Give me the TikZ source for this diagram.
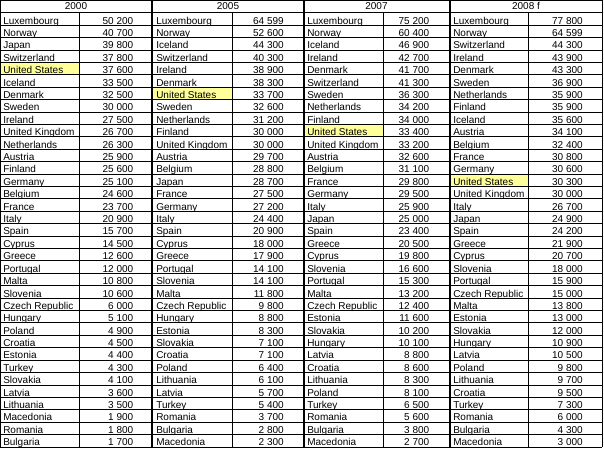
\documentclass[tikz,border=0pt]{standalone}
\usepackage{fontspec}
\setmainfont{Liberation Sans}
\definecolor{hlyellow}{RGB}{255,255,153}
\newcommand\mkcol[4]{%
  \foreach \nm/\vl [count=\r] in {#4} {%
    \node[namecell] (n#1-\r) at (#2,{13+\r*12.4-1.2}) {\nm};
    \node[valcell] (v#1-\r) at (#3,{13+\r*12.4-1.2}) {\vl};
  }%
}
\begin{document}
\begin{tikzpicture}[x=0.75pt,y=-0.75pt,
  txt/.style={inner sep=0pt, font=\fontsize{7.5}{9}\selectfont},
  namecell/.style={txt, anchor=base west},
  valcell/.style={txt, anchor=base east},
  headcell/.style={txt, anchor=base},
  thinline/.style={line width=0.75pt, black},
  sepline/.style={line width=1.5pt, black},
  hl/.style={fill=hlyellow}]
\useasboundingbox (0,0) rectangle (604,449);
\fill[white] (0,0) rectangle (604,449);
% highlighted cells
\fill[hl] (0.5,{13+4*12.4}) rectangle (79,{13+5*12.4});
\fill[hl] (152,{13+6*12.4}) rectangle (232,{13+7*12.4});
\fill[hl] (303.5,{13+9*12.4}) rectangle (383,{13+10*12.4});
\fill[hl] (449.5,{13+13*12.4}) rectangle (528,{13+14*12.4});
% grid
\draw[thinline] (0,0.4) -- (602.4,0.4);
\foreach \i in {0,...,35} {\draw[thinline] (0,{13+\i*12.4}) -- (602.4,{13+\i*12.4});}
\draw[thinline] (0.4,0) -- (0.4,447);
\draw[thinline] (602,0) -- (602,447);
\foreach \xx in {79,232,383,528} {\draw[thinline] (\xx,13) -- (\xx,447);}
\foreach \xx in {152,303.5,449.5} {\draw[sepline] (\xx,0) -- (\xx,447);}
% headers
\node[headcell] (h1) at (76,10) {2000};
\node[headcell] (h2) at (228,10) {2005};
\node[headcell] (h3) at (376.5,10) {2007};
\node[headcell] (h4) at (526,10) {2008 f};
% data
\mkcol{1}{3}{133.5}{Luxembourg/50 200,Norway/40 700,Japan/39 800,Switzerland/37 800,United States/37 600,Iceland/33 500,Denmark/32 500,Sweden/30 000,Ireland/27 500,United Kingdom/26 700,Netherlands/26 300,Austria/25 900,Finland/25 600,Germany/25 100,Belgium/24 600,France/23 700,Italy/20 900,Spain/15 700,Cyprus/14 500,Greece/12 600,Portugal/12 000,Malta/10 800,Slovenia/10 600,Czech Republic/6 000,Hungary/5 100,Poland/4 900,Croatia/4 500,Estonia/4 400,Turkey/4 300,Slovakia/4 100,Latvia/3 600,Lithuania/3 500,Macedonia/1 900,Romania/1 800,Bulgaria/1 700}
\mkcol{2}{156}{284}{Luxembourg/64 599,Norway/52 600,Iceland/44 300,Switzerland/40 300,Ireland/38 900,Denmark/38 300,United States/33 700,Sweden/32 600,Netherlands/31 200,Finland/30 000,United Kingdom/30 000,Austria/29 700,Belgium/28 800,Japan/28 700,France/27 500,Germany/27 200,Italy/24 400,Spain/20 900,Cyprus/18 000,Greece/17 900,Portugal/14 100,Slovenia/14 100,Malta/11 800,Czech Republic/9 800,Hungary/8 800,Estonia/8 300,Slovakia/7 100,Croatia/7 100,Poland/6 400,Lithuania/6 100,Latvia/5 700,Turkey/5 400,Romania/3 700,Bulgaria/2 800,Macedonia/2 300}
\mkcol{3}{307}{429.5}{Luxembourg/75 200,Norway/60 400,Iceland/46 900,Ireland/42 700,Denmark/41 700,Switzerland/41 300,Sweden/36 300,Netherlands/34 200,Finland/34 000,United States/33 400,United Kingdom/33 200,Austria/32 600,Belgium/31 100,France/29 800,Germany/29 500,Italy/25 900,Japan/25 000,Spain/23 400,Greece/20 500,Cyprus/19 800,Slovenia/16 600,Portugal/15 300,Malta/13 200,Czech Republic/12 400,Estonia/11 600,Slovakia/10 200,Hungary/10 100,Latvia/8 800,Croatia/8 600,Lithuania/8 300,Poland/8 100,Turkey/6 500,Romania/5 600,Bulgaria/3 800,Macedonia/2 700}
\mkcol{4}{453}{583}{Luxembourg/77 800,Norway/64 599,Switzerland/44 300,Ireland/43 900,Denmark/43 300,Sweden/36 900,Netherlands/35 900,Finland/35 900,Iceland/35 600,Austria/34 100,Belgium/32 400,France/30 800,Germany/30 600,United States/30 300,United Kingdom/30 000,Italy/26 700,Japan/24 900,Spain/24 200,Greece/21 900,Cyprus/20 700,Slovenia/18 000,Portugal/15 900,Czech Republic/15 000,Malta/13 800,Estonia/13 000,Slovakia/12 000,Hungary/10 900,Latvia/10 500,Poland/9 800,Lithuania/9 700,Croatia/9 500,Turkey/7 300,Romania/6 000,Bulgaria/4 300,Macedonia/3 000}
\end{tikzpicture}
\end{document}
